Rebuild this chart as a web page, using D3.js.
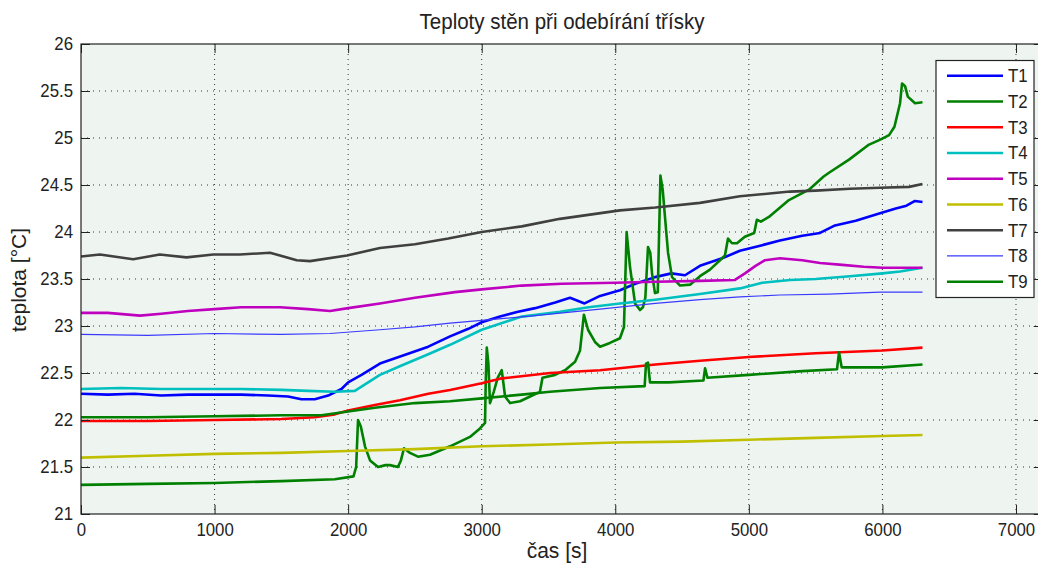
<!DOCTYPE html>
<html><head><meta charset="utf-8">
<script src="https://cdn.jsdelivr.net/npm/d3@7"></script>
<style>
body{margin:0;background:#fff;}
text{font-family:"Liberation Sans",Arial,sans-serif;fill:#222;}
</style></head>
<body><svg id="c" width="1038" height="565"></svg>
<script>
const title = "Teploty stěn při odebírání třísky";
const xLabel = "čas [s]";
const yLabel = "teplota [°C]";
const xTicks = [0,1000,2000,3000,4000,5000,6000,7000];
const xTickLabels = ["0","1000","2000","3000","4000","5000","6000","7000"];
const yTicks = [21,21.5,22,22.5,23,23.5,24,24.5,25,25.5,26];
const yTickLabels = ["21","21.5","22","22.5","23","23.5","24","24.5","25","25.5","26"];
const seriesNames = ["T1","T2","T3","T4","T5","T6","T7","T8","T9"];
const seriesColors = ["#0000ff","#008000","#ff0000","#00bfbf","#bf00bf","#bfbf00","#404040","#3a3aff","#008000"];
const seriesWidths = [2.6,2.6,2.6,2.6,2.6,2.6,2.6,1.2,2.6];

// [time s, temperature °C]
const T1 = [[0,22.28],[200,22.27],[400,22.28],[600,22.26],[800,22.27],[1000,22.27],[1200,22.27],[1400,22.26],[1550,22.25],[1650,22.22],[1750,22.22],[1850,22.26],[1950,22.33],[2000,22.4],[2100,22.48],[2238,22.6],[2400,22.68],[2600,22.78],[2763,22.89],[2900,22.97],[3000,23.04],[3137,23.1],[3264,23.15],[3400,23.19],[3550,23.25],[3661,23.3],[3770,23.24],[3886,23.32],[4035,23.38],[4150,23.45],[4297,23.52],[4420,23.56],[4522,23.54],[4634,23.64],[4800,23.72],[4933,23.8],[5100,23.86],[5233,23.91],[5400,23.96],[5533,23.99],[5645,24.07],[5800,24.12],[5982,24.2],[6100,24.25],[6180,24.28],[6244,24.33],[6300,24.32]];
const T2 = [[0,21.31],[500,21.32],[1000,21.33],[1500,21.35],[1900,21.37],[2040,21.4],[2060,21.5],[2074,22.0],[2095,21.93],[2126,21.72],[2164,21.57],[2224,21.5],[2280,21.52],[2313,21.52],[2373,21.5],[2395,21.57],[2418,21.7],[2463,21.65],[2523,21.61],[2613,21.63],[2763,21.72],[2912,21.82],[2987,21.91],[3025,21.97],[3030,22.4],[3038,22.77],[3050,22.6],[3062,22.18],[3090,22.3],[3120,22.45],[3150,22.53],[3175,22.25],[3212,22.18],[3287,22.2],[3362,22.25],[3436,22.3],[3455,22.45],[3549,22.48],[3624,22.53],[3699,22.62],[3736,22.74],[3765,23.12],[3796,22.96],[3848,22.83],[3886,22.78],[3960,22.82],[4035,22.87],[4065,22.99],[4085,24.0],[4110,23.63],[4148,23.24],[4185,23.17],[4207,23.2],[4225,23.3],[4245,23.84],[4262,23.78],[4275,23.56],[4297,23.35],[4318,23.36],[4338,24.6],[4355,24.45],[4372,24.16],[4395,23.78],[4425,23.52],[4485,23.43],[4560,23.44],[4634,23.53],[4709,23.6],[4784,23.7],[4821,23.75],[4844,23.93],[4874,23.88],[4911,23.88],[4970,23.95],[5040,23.99],[5060,24.13],[5090,24.11],[5150,24.16],[5300,24.34],[5450,24.45],[5560,24.59],[5600,24.63],[5750,24.77],[5900,24.93],[5980,24.98],[6050,25.03],[6090,25.12],[6132,25.37],[6147,25.58],[6170,25.55],[6190,25.44],[6244,25.37],[6300,25.38]];
const T3 = [[0,21.99],[500,21.99],[1000,22.0],[1500,22.01],[1750,22.03],[1900,22.06],[2000,22.1],[2200,22.16],[2388,22.21],[2600,22.28],[2763,22.32],[3000,22.39],[3137,22.44],[3511,22.5],[3886,22.53],[4300,22.59],[4634,22.63],[5000,22.67],[5500,22.71],[6000,22.74],[6300,22.77]];
const T4 = [[0,22.33],[300,22.34],[600,22.33],[900,22.33],[1200,22.33],[1500,22.32],[1700,22.31],[1900,22.3],[2050,22.31],[2150,22.4],[2238,22.48],[2400,22.58],[2600,22.7],[2763,22.8],[3000,22.96],[3300,23.1],[3586,23.15],[3800,23.2],[4035,23.24],[4300,23.28],[4634,23.34],[4933,23.4],[5100,23.46],[5308,23.49],[5500,23.5],[5757,23.53],[6000,23.56],[6132,23.58],[6300,23.62]];
const T5 = [[0,23.14],[200,23.14],[442,23.11],[600,23.13],[800,23.16],[1000,23.18],[1200,23.2],[1490,23.2],[1700,23.18],[1864,23.16],[2000,23.19],[2238,23.24],[2500,23.3],[2800,23.36],[3000,23.39],[3300,23.43],[3600,23.45],[4000,23.46],[4300,23.47],[4634,23.48],[4896,23.49],[4971,23.56],[5050,23.64],[5121,23.7],[5233,23.72],[5400,23.7],[5533,23.67],[5700,23.65],[5860,23.63],[6000,23.62],[6300,23.62]];
const T6 = [[0,21.6],[500,21.62],[1000,21.64],[1500,21.65],[2000,21.67],[2500,21.69],[3000,21.72],[3500,21.74],[4000,21.76],[4500,21.77],[5000,21.79],[5500,21.81],[6000,21.83],[6300,21.84]];
const T7 = [[0,23.74],[142,23.76],[390,23.71],[590,23.76],[790,23.73],[990,23.76],[1190,23.76],[1415,23.78],[1615,23.7],[1714,23.69],[1991,23.75],[2238,23.83],[2500,23.87],[2750,23.93],[3000,24.0],[3300,24.06],[3586,24.14],[4035,24.23],[4300,24.26],[4634,24.31],[4933,24.38],[5308,24.43],[5500,24.44],[5757,24.46],[5982,24.47],[6200,24.48],[6300,24.51]];
const T8 = [[0,22.91],[500,22.9],[1000,22.92],[1500,22.91],[1864,22.92],[2238,22.96],[2500,22.99],[2763,23.03],[3000,23.06],[3400,23.11],[3886,23.18],[4300,23.24],[4634,23.28],[4933,23.31],[5233,23.33],[5600,23.34],[5982,23.36],[6300,23.36]];
const T9 = [[0,22.03],[500,22.03],[1000,22.04],[1500,22.05],[1800,22.05],[2000,22.09],[2200,22.13],[2500,22.18],[2763,22.2],[3000,22.23],[3300,22.27],[3511,22.3],[3886,22.34],[4220,22.36],[4230,22.6],[4245,22.61],[4260,22.4],[4400,22.4],[4660,22.42],[4672,22.55],[4690,22.45],[5000,22.48],[5400,22.52],[5660,22.54],[5675,22.72],[5695,22.56],[6000,22.56],[6300,22.59]];
const seriesData = [T1,T2,T3,T4,T5,T6,T7,T8,T9];

const svg = d3.select("#c");
const L = 81, T = 44, B = 514;
const x = d3.scaleLinear().domain([0,7200]).range([L, L + 7.2*133.57]);
const y = d3.scaleLinear().domain([21,26]).range([B, T]);
const R = x(7200);
const SY = 1.08; // vertical stretch of glyphs seen in the reference

function stretch(sel){
  sel.each(function(){
    const t = d3.select(this);
    const tx = +t.attr("x") || 0, ty = +t.attr("y") || 0;
    t.attr("x",0).attr("y",0).attr("transform",`translate(${tx},${ty}) scale(1,${SY})`);
  });
}

svg.append("rect").attr("x",L).attr("y",T).attr("width",R-L).attr("height",B-T).attr("fill","#eef5f0");

// grid
const g = svg.append("g");
g.selectAll(".gx").data(xTicks.filter(d=>d>0)).join("line")
  .attr("x1",d=>x(d)).attr("x2",d=>x(d)).attr("y1",T).attr("y2",B)
  .attr("stroke","#333").attr("stroke-width",1).attr("stroke-dasharray","1,4");
g.selectAll(".gy").data(yTicks.filter(d=>d>21 && d<26)).join("line")
  .attr("x1",L).attr("x2",R).attr("y1",d=>y(d)).attr("y2",d=>y(d))
  .attr("stroke","#333").attr("stroke-width",1).attr("stroke-dasharray","1,5");

// lines
const line = d3.line().x(d=>x(d[0])).y(d=>y(d[1]));
seriesData.forEach((s,i)=>{
  svg.append("path").datum(s).attr("d",line).attr("fill","none")
    .attr("stroke",seriesColors[i]).attr("stroke-width",seriesWidths[i])
    .attr("stroke-linejoin","round");
});

// axes
const fs = "16.8px";
const ax = svg.append("g").attr("transform",`translate(0,${B})`)
  .call(d3.axisBottom(x).tickValues(xTicks).tickFormat((d,i)=>xTickLabels[i]).tickSize(-9).tickPadding(9));
const ay = svg.append("g").attr("transform",`translate(${L},0)`)
  .call(d3.axisLeft(y).tickValues(yTicks).tickFormat((d,i)=>yTickLabels[i]).tickSize(-9).tickPadding(8));
const axTop = svg.append("g").attr("transform",`translate(0,${T})`)
  .call(d3.axisTop(x).tickValues(xTicks).tickFormat("").tickSize(-9));
const ayR = svg.append("g").attr("transform",`translate(${R},0)`)
  .call(d3.axisRight(y).tickValues(yTicks).tickFormat("").tickSize(-9));
[ax,ay,axTop,ayR].forEach(a=>{
  a.select(".domain").remove();
  a.selectAll(".tick line").attr("stroke","#222");
  a.selectAll("text").style("font-size",fs).style("font-family","'Liberation Sans',Arial,sans-serif").attr("fill","#222");
});
stretch(ax.selectAll("text"));
stretch(ay.selectAll("text"));
svg.append("rect").attr("x",L).attr("y",T).attr("width",R-L).attr("height",B-T)
  .attr("fill","none").attr("stroke","#222").attr("stroke-width",1.2);

// labels
svg.append("text").attr("x",562).attr("y",29).attr("text-anchor","middle").style("font-size","20.5px").text(title).call(stretch);
svg.append("text").attr("x",557).attr("y",558).attr("text-anchor","middle").style("font-size","21px").text(xLabel).call(stretch);
svg.append("text").attr("transform","translate(26,280) rotate(-90)").attr("text-anchor","middle").style("font-size","21px").text(yLabel);

// legend
const lg = svg.append("g");
lg.append("rect").attr("x",936).attr("y",60.5).attr("width",98).attr("height",237).attr("fill","#fff").attr("stroke","#222").attr("stroke-width",1.2);
seriesNames.forEach((n,i)=>{
  const yy = 75.7 + i*25.75;
  lg.append("line").attr("x1",947).attr("x2",1003).attr("y1",yy).attr("y2",yy)
    .attr("stroke",seriesColors[i]).attr("stroke-width",seriesWidths[i]);
  lg.append("text").attr("x",1008).attr("y",yy+6.5).style("font-size","16.8px").text(n).call(stretch);
});
</script></body></html>
